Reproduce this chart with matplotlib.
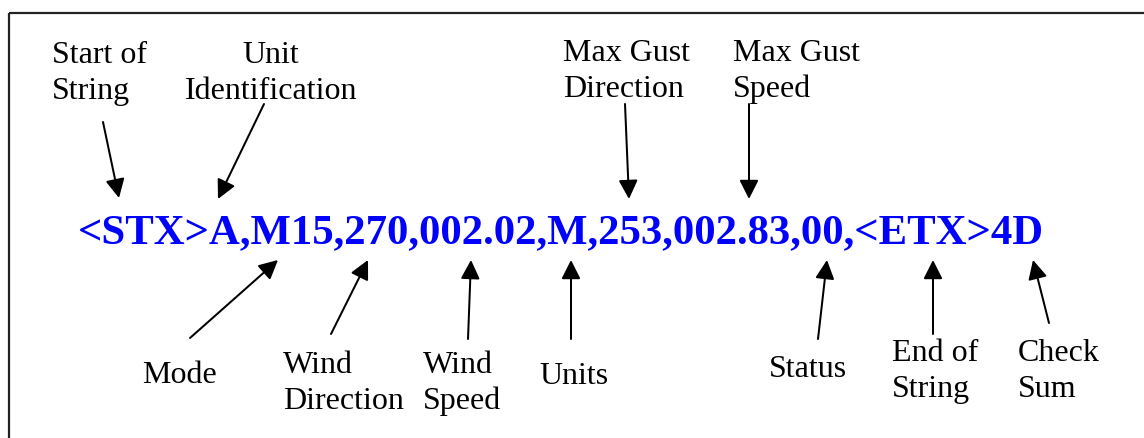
import matplotlib
matplotlib.use("Agg")
import matplotlib.pyplot as plt
from matplotlib.patches import FancyArrowPatch

# ---- content ----
message = "<STX>A,M15,270,002.02,M,253,002.83,00,<ETX>4D"
top_labels = ["Start of\nString", "Unit\nIdentification",
              "Max Gust\nDirection", "Max Gust\nSpeed"]
bottom_labels = ["Mode", "Wind\nDirection", "Wind\nSpeed", "Units",
                 "Status", "End of\nString", "Check\nSum"]

# ---- layout (pixel coordinates, y downward) ----
W, H = 1144, 438
top_pos = [(52, 63, "left"), (271, 63, "center"), (563, 61, "left"), (733, 61, "left")]
top_arrows = [((103, 122), (119, 198)), ((264, 104), (218, 199)),
              ((625, 104), (629, 199)), ((749, 104), (749, 199))]
bottom_pos = [(142, 383, "left"), (283, 373, "left"), (423, 373, "left"),
              (539, 384, "left"), (769, 377, "left"), (892, 361, "left"),
              (1018, 361, "left")]
bottom_arrows = [((190, 338), (278, 260)), ((331, 334), (368, 260)),
                 ((468, 339), (471, 260)), ((571, 339), (571, 260)),
                 ((818, 339), (827, 260)), ((933, 334), (933, 260)),
                 ((1049, 323), (1033, 260))]
LINE = 36
SERIF = ["Liberation Serif", "DejaVu Serif"]

fig = plt.figure(figsize=(W / 100, H / 100), dpi=100)
ax = fig.add_axes([0, 0, 1, 1])
ax.set_xlim(0, W)
ax.set_ylim(H, 0)
ax.axis("off")

# border (top and left only visible)
ax.plot([9, W + 5], [13, 13], color="#222222", lw=1.6, solid_capstyle="butt")
ax.plot([9, 9], [13, H + 5], color="#222222", lw=1.6, solid_capstyle="butt")

# main message
ax.text(78, 243, message, family=SERIF, fontsize=30.8, fontweight="bold",
        color="#0000FF", ha="left", va="baseline")

def draw_label(text, pos):
    x, y, ha = pos
    for i, line in enumerate(text.split("\n")):
        ax.text(x, y + i * LINE, line, family=SERIF, fontsize=23,
                color="black", ha=ha, va="baseline")

def draw_arrow(tail, tip):
    ax.add_patch(FancyArrowPatch(tail, tip,
                 arrowstyle="-|>,head_length=11.5,head_width=5.8",
                 mutation_scale=1, lw=1.45, color="black",
                 shrinkA=0, shrinkB=0))

for t, p in zip(top_labels, top_pos):
    draw_label(t, p)
for t, p in zip(bottom_labels, bottom_pos):
    draw_label(t, p)
for a in top_arrows + bottom_arrows:
    draw_arrow(*a)

fig.savefig("out.png", dpi=100, facecolor="white")
